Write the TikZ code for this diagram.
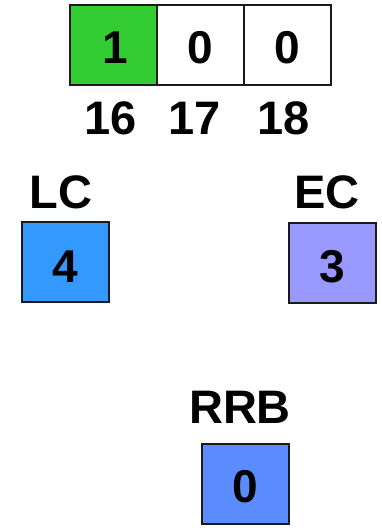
\documentclass[tikz,border=0pt]{standalone}
\usepackage{fontspec}
\setmainfont{Liberation Sans}
\definecolor{cgreen}{HTML}{33CC33}
\definecolor{cblue}{HTML}{3399FF}
\definecolor{cviolet}{HTML}{9999FF}
\definecolor{crrb}{HTML}{5B8CFF}
\definecolor{edge}{HTML}{1A1A1A}
\begin{document}
\begin{tikzpicture}[x=1pt,y=-1pt,
  cell/.style={draw=edge,line width=2pt,minimum width=87pt,minimum height=80pt,inner sep=0pt,outer sep=0pt},
  digit/.style={font=\fontsize{46}{46}\selectfont\bfseries,anchor=base,inner sep=0pt},
  lbl/.style={font=\fontsize{47}{47}\selectfont\bfseries,anchor=base,inner sep=0pt}]
\useasboundingbox (0,0) rectangle (381,531);
% top array
\node[cell,fill=cgreen] (c16) at (113.5,45) {};
\node[cell,fill=white] (c17) at (200.5,45) {};
\node[cell,fill=white] (c18) at (287.5,45) {};
\node[digit] (d16) at (115,63) {1};
\node[digit] (d17) at (200.5,63) {0};
\node[digit] (d18) at (287.5,63) {0};
\node[lbl] (i16) at (111,134) {16};
\node[lbl] (i17) at (195,134) {17};
\node[lbl] (i18) at (284,134) {18};
% LC
\node[lbl] (tlc) at (61,208) {LC};
\node[cell,fill=cblue] (lc) at (65.5,261.5) {};
\node[digit] (dlc) at (65.5,282) {4};
% EC
\node[lbl] (tec) at (327,208) {EC};
\node[cell,fill=cviolet] (ec) at (332,262.5) {};
\node[digit] (dec) at (332,282) {3};
% RRB
\node[lbl] (trrb) at (240,423) {RRB};
\node[cell,fill=crrb] (rrb) at (245.5,483.5) {};
\node[digit] (drrb) at (245.5,502) {0};
\end{tikzpicture}
\end{document}
